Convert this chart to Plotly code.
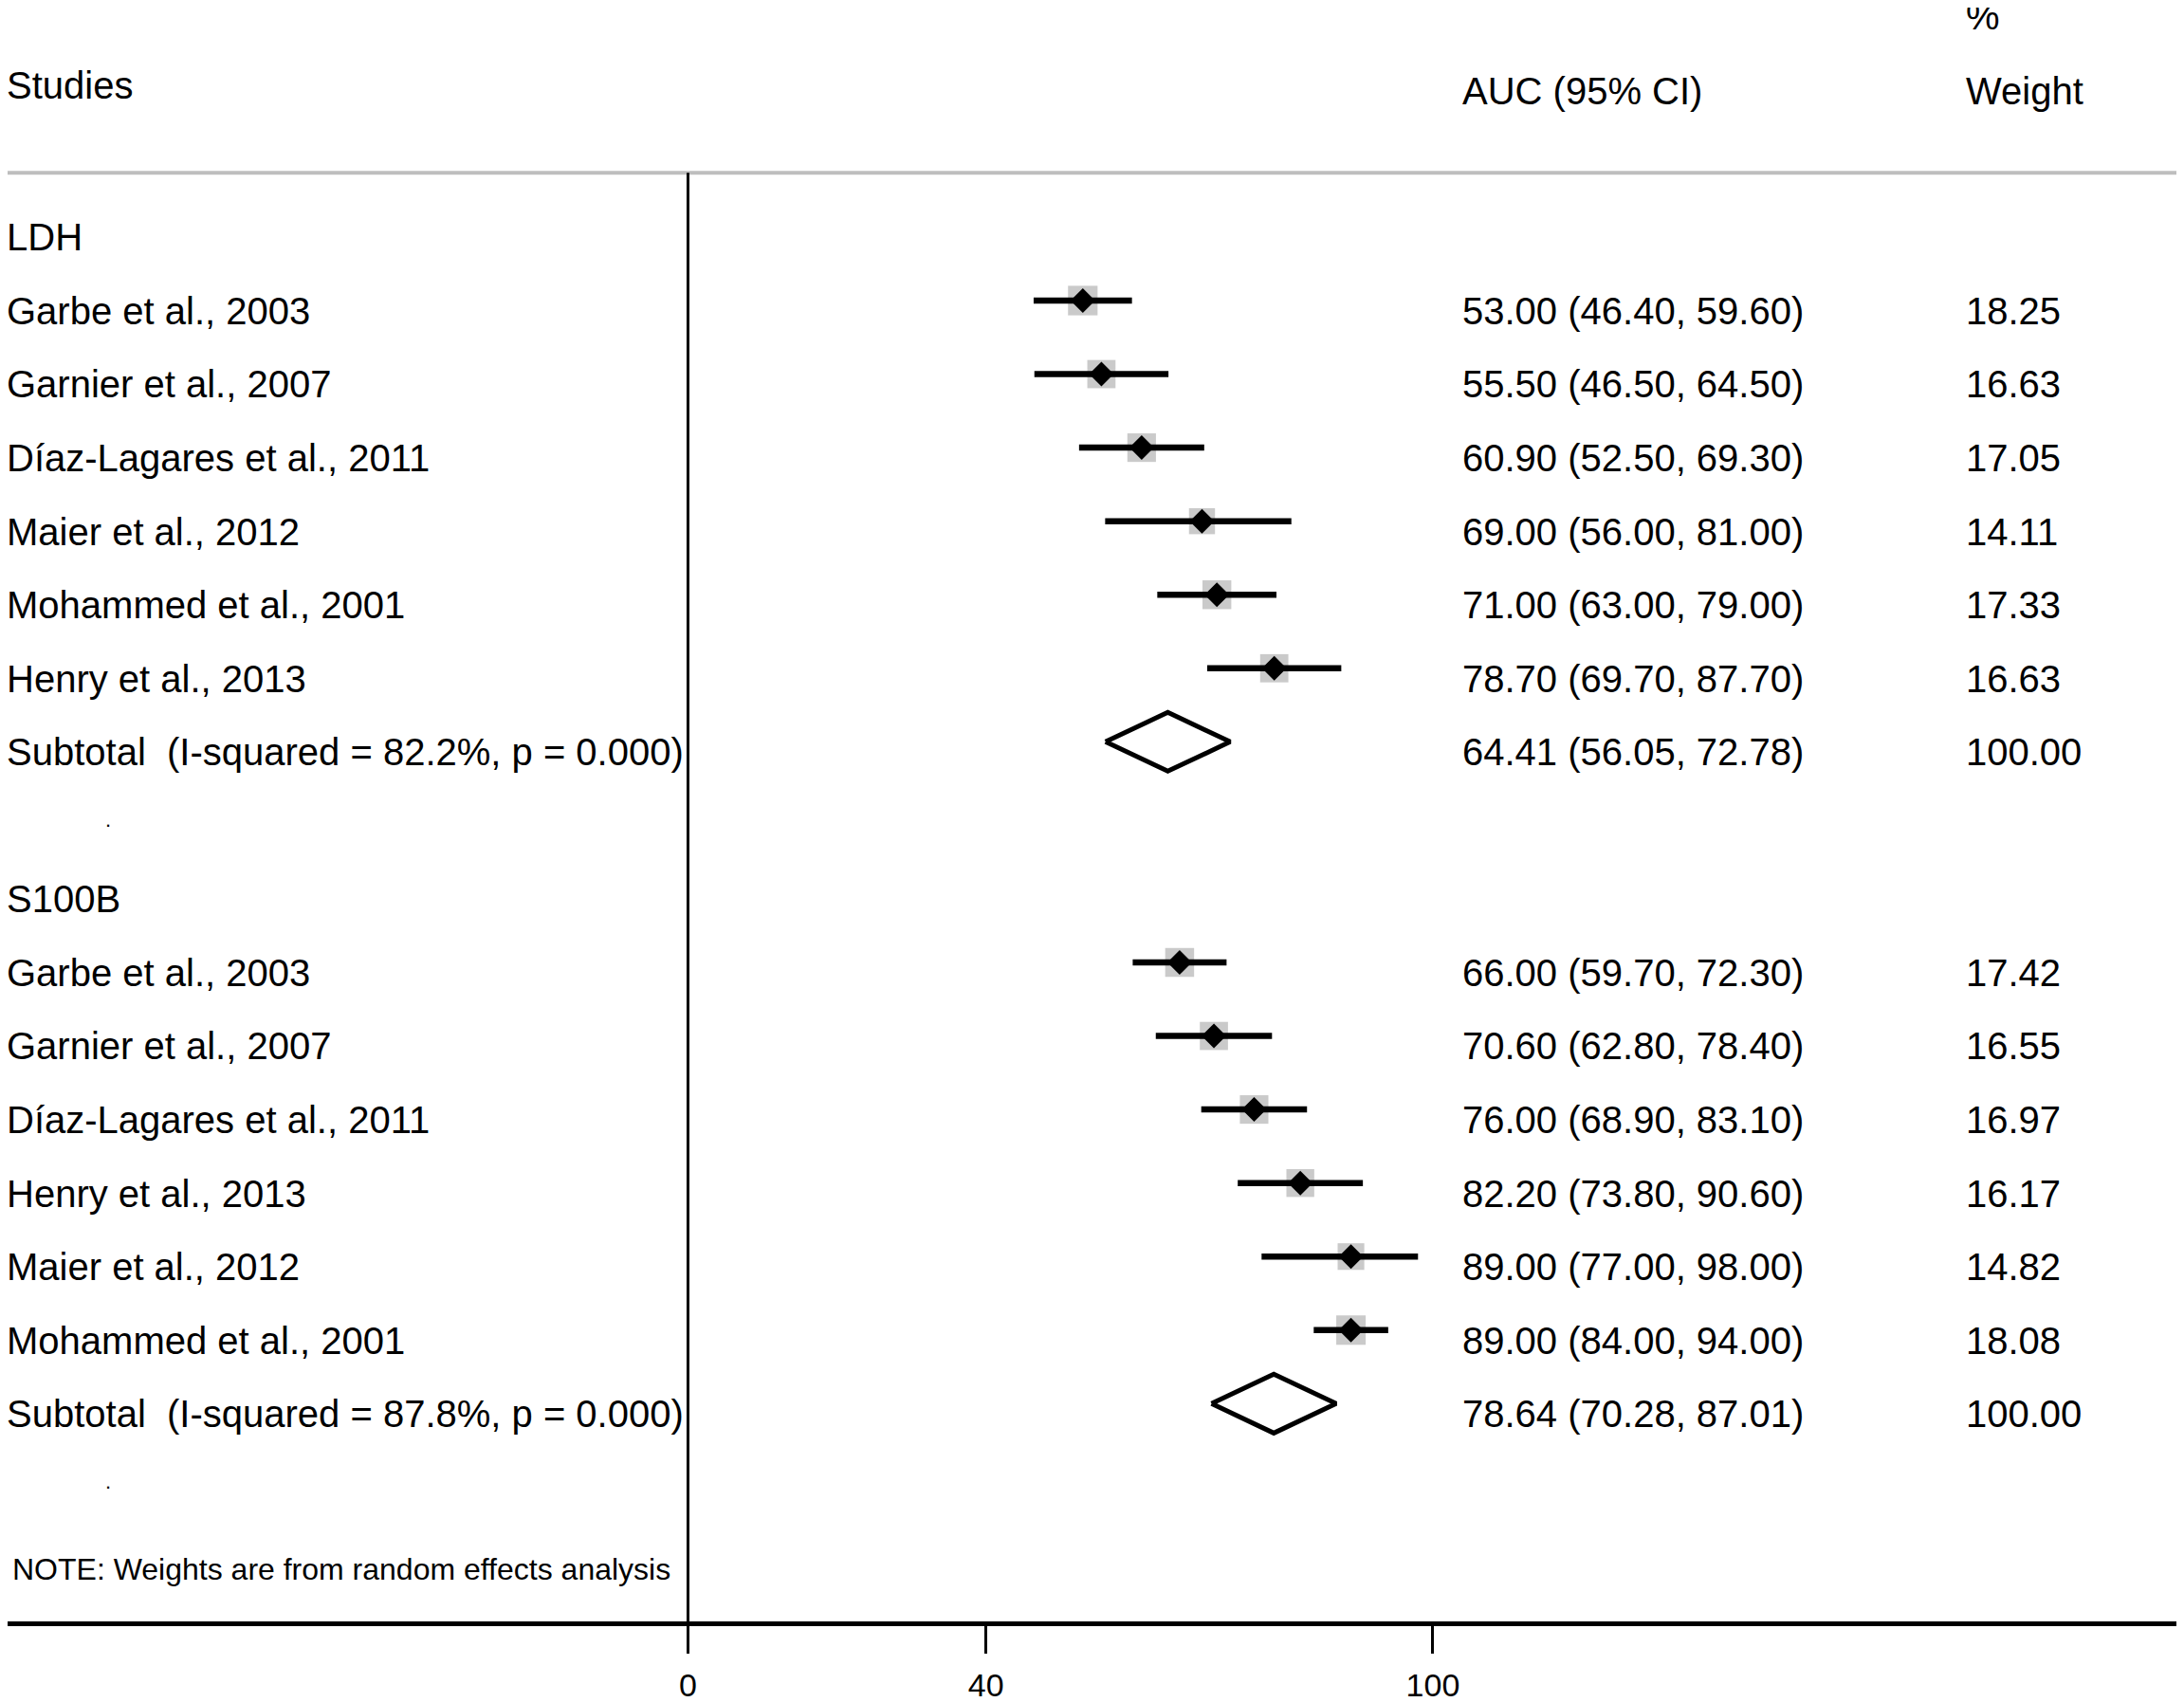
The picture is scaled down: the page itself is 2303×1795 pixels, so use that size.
import plotly.graph_objects as go

# ---- data ----
ldh_studies = ["Garbe et al., 2003", "Garnier et al., 2007", "Díaz-Lagares et al., 2011",
               "Maier et al., 2012", "Mohammed et al., 2001", "Henry et al., 2013"]
ldh_auc = [53.00, 55.50, 60.90, 69.00, 71.00, 78.70]
ldh_lo = [46.40, 46.50, 52.50, 56.00, 63.00, 69.70]
ldh_hi = [59.60, 64.50, 69.30, 81.00, 79.00, 87.70]
ldh_weight = [18.25, 16.63, 17.05, 14.11, 17.33, 16.63]
ldh_subtotal = [64.41, 56.05, 72.78]
ldh_isq = "82.2%"

s100b_studies = ["Garbe et al., 2003", "Garnier et al., 2007", "Díaz-Lagares et al., 2011",
                 "Henry et al., 2013", "Maier et al., 2012", "Mohammed et al., 2001"]
s100b_auc = [66.00, 70.60, 76.00, 82.20, 89.00, 89.00]
s100b_lo = [59.70, 62.80, 68.90, 73.80, 77.00, 84.00]
s100b_hi = [72.30, 78.40, 83.10, 90.60, 98.00, 94.00]
s100b_weight = [17.42, 16.55, 16.97, 16.17, 14.82, 18.08]
s100b_subtotal = [78.64, 70.28, 87.01]
s100b_isq = "87.8%"

groups = [
    ("LDH", ldh_studies, ldh_auc, ldh_lo, ldh_hi, ldh_weight, ldh_subtotal, ldh_isq),
    ("S100B", s100b_studies, s100b_auc, s100b_lo, s100b_hi, s100b_weight, s100b_subtotal, s100b_isq),
]

tick_vals = [0, 40, 100]
tick_text = ["0", "40", "100"]

FONT = "Liberation Sans, Arial, sans-serif"
TXT = 0.14          # text sits a little below the marker line
X_MIN, X_MAX = -91.34, 200.83
X_AUC = 103.7
X_WT = 171.35
Y_TOP, Y_BOT = -2.984, 18.961
RULE_Y = -0.738

fig = go.Figure()
ann = []


def label(x, y, text, size=40, anchor="left", shift=0):
    ann.append(dict(x=x, y=y, xref="x", yref="y", text=text, showarrow=False,
                    xanchor=anchor, yanchor="middle", xshift=shift,
                    font=dict(family=FONT, size=size, color="black")))


def left_label(y, text, size=40, shift=-3):
    # left column hugs the page edge; anchor at axis minimum and nudge
    label(X_MIN, y, text, size=size, shift=shift)


ci_x, ci_y = [], []
pt_x, pt_y, pt_size = [], [], []
row = 0
for name, studies, auc, lo, hi, wt, sub, isq in groups:
    left_label(row + TXT, name)
    for i, s in enumerate(studies):
        r = row + 1 + i
        ci_x += [lo[i], hi[i], None]
        ci_y += [r, r, None]
        pt_x.append(auc[i])
        pt_y.append(r)
        pt_size.append(7.3 * wt[i] ** 0.5)
        left_label(r + TXT, s)
        label(X_AUC, r + TXT, f"{auc[i]:.2f} ({lo[i]:.2f}, {hi[i]:.2f})")
        label(X_WT, r + TXT, f"{wt[i]:.2f}")
    r = row + 1 + len(studies)
    est, slo, shi = sub
    fig.add_trace(go.Scatter(x=[slo, est, shi, est, slo], y=[r, r - 0.4, r, r + 0.4, r],
                             mode="lines", line=dict(color="black", width=5),
                             hoverinfo="skip", showlegend=False))
    left_label(r + TXT, f"Subtotal\u00a0 (I-squared = {isq}, p = 0.000)")
    label(X_AUC, r + TXT, f"{est:.2f} ({slo:.2f}, {shi:.2f})")
    label(X_WT, r + TXT, "100.00")
    label(-77.8, r + 1.06, ".", size=22, anchor="center")
    row = r + 2

fig.add_trace(go.Scatter(x=pt_x, y=pt_y, mode="markers",
                         marker=dict(symbol="square", size=pt_size, color="#b4b4b4", line_width=0),
                         showlegend=False))
fig.add_trace(go.Scatter(x=ci_x, y=ci_y, mode="lines", line=dict(color="black", width=6.5),
                         showlegend=False))
fig.add_trace(go.Scatter(x=pt_x, y=pt_y, mode="markers",
                         marker=dict(symbol="diamond", size=20, color="black", line_width=0),
                         showlegend=False))

# headers
left_label(-1.93, "Studies")
label(X_AUC, -1.85, "AUC (95% CI)")
label(X_WT, -2.87, "%")
label(X_WT, -1.85, "Weight")
left_label(18.25, "NOTE: Weights are from random effects analysis", size=32, shift=3)
fig.update_layout(annotations=ann)

# header rule and the no-effect line
fig.add_shape(type="line", xref="paper", yref="y", x0=0, x1=1, y0=RULE_Y, y1=RULE_Y,
              line=dict(color="#bebebe", width=4))
fig.add_shape(type="line", xref="x", yref="paper", x0=0, x1=0,
              y0=0, y1=(Y_BOT - RULE_Y) / (Y_BOT - Y_TOP),
              line=dict(color="black", width=3))

fig.update_xaxes(range=[X_MIN, X_MAX], tickvals=tick_vals, ticktext=tick_text,
                 ticks="outside", ticklen=29, tickwidth=3, tickcolor="black",
                 showline=True, linewidth=5, linecolor="black", automargin=False,
                 showgrid=False, zeroline=False, ticklabelstandoff=4,
                 tickfont=dict(family=FONT, size=34, color="black"))
fig.update_yaxes(range=[Y_BOT, Y_TOP], visible=False, automargin=False)
# the page body adds 8px, so the figure is 8px short of the window
fig.update_layout(width=2295, height=1787, margin=dict(l=0, r=0, t=0, b=85),
                  paper_bgcolor="white", plot_bgcolor="white", showlegend=False)

fig.write_html("out.html")
